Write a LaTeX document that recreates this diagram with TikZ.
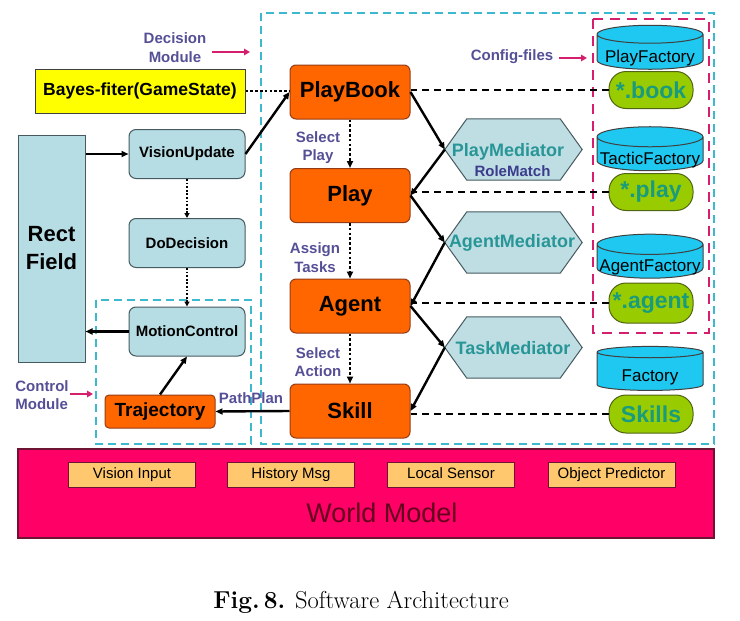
\documentclass[tikz,border=0pt]{standalone}
\usepackage{fontspec}
\newfontfamily\arial{Liberation Sans}
\usetikzlibrary{arrows.meta,shapes.geometric,backgrounds}
\definecolor{orangebox}{RGB}{255,102,0}
\definecolor{orangeedge}{RGB}{150,60,20}
\definecolor{lightblue}{RGB}{183,221,228}
\definecolor{blueedge}{RGB}{70,90,95}
\definecolor{cyandash}{RGB}{60,185,205}
\definecolor{magdash}{RGB}{214,30,110}
\definecolor{wmfill}{RGB}{255,0,102}
\definecolor{wmedge}{RGB}{110,20,50}
\definecolor{wmbox}{RGB}{255,200,110}
\definecolor{cylfill}{RGB}{30,200,240}
\definecolor{pillfill}{RGB}{153,204,0}
\definecolor{pilledge}{RGB}{80,100,20}
\definecolor{pilltext}{RGB}{25,155,125}
\definecolor{hexfill}{RGB}{190,222,228}
\definecolor{hextext}{RGB}{40,150,150}
\definecolor{roletext}{RGB}{60,60,140}
\definecolor{labeltext}{RGB}{85,80,150}
\definecolor{wmtext}{RGB}{100,0,30}
\definecolor{yellowbox}{RGB}{255,255,0}
\begin{document}
\begin{tikzpicture}[x=1pt,y=-1pt,
  tip/.style={-{Triangle[length=7pt,width=6pt]}},
  orangenode/.style={draw=orangeedge, line width=1pt, fill=orangebox, rounded corners=6pt,
    minimum width=120pt, minimum height=54pt, inner sep=0pt,
    font={\arial\bfseries\fontsize{22}{24}\selectfont}},
  bluenode/.style={draw=blueedge, line width=1pt, fill=lightblue, rounded corners=7pt,
    minimum width=116pt, minimum height=49pt, inner sep=0pt,
    font={\arial\bfseries\fontsize{15}{17}\selectfont}},
  hexnode/.style={minimum width=137pt, minimum height=61pt, inner sep=0pt},
  hexlabel/.style={text=hextext, inner sep=0pt, font={\arial\bfseries\fontsize{18}{20}\selectfont}},
  cylnode/.style={shape=cylinder, shape border rotate=90, aspect=0.2, draw=black!75, line width=1pt,
    fill=cylfill, minimum width=106pt, minimum height=44pt, inner sep=0pt,
    font={\arial\fontsize{17}{19}\selectfont}},
  pillnode/.style={draw=pilledge, line width=1pt, fill=pillfill, rounded corners=17pt,
    minimum width=84pt, minimum height=37pt, inner sep=0pt, text=pilltext,
    font={\arial\bfseries\fontsize{23}{25}\selectfont}},
  wmsub/.style={draw=wmedge, line width=1pt, fill=wmbox, minimum width=127pt, minimum height=25pt,
    inner sep=0pt, text height=11pt, text depth=3pt, font={\arial\fontsize{15}{17}\selectfont}},
  lbl/.style={text=labeltext, inner sep=0pt, align=center, font={\arial\bfseries\fontsize{15}{18.5}\selectfont}},
  solidarrow/.style={line width=2.4pt, tip},
  dotarrow/.style={line width=2.6pt, dash pattern=on 2.6pt off 2.2pt, tip},
  thindot/.style={line width=1.8pt, dash pattern=on 1.8pt off 1.8pt, -{Triangle[length=5pt,width=5pt]}},
  dashline/.style={line width=1.8pt, dash pattern=on 7pt off 5pt},
  cyanbox/.style={draw=cyandash, line width=2pt, dash pattern=on 8pt off 5pt},
  magbox/.style={draw=magdash, line width=2.6pt, dash pattern=on 10pt off 7pt},
  magarrow/.style={draw=magdash, line width=2.6pt, -{Triangle[length=6pt,width=6.5pt]}}
]
\useasboundingbox (0,0) rectangle (740,621);

% module frames
\draw[cyanbox] (261,13) rectangle (714,444);
\draw[cyanbox] (96,300) rectangle (251,444);
\draw[magbox] (593,19) rectangle (709,333);

% world model
\node[draw=wmedge, line width=1.2pt, fill=wmfill, minimum width=696pt, minimum height=89pt, inner sep=0pt] (wm) at (366,493.5) {};
\node[wmsub] (vin) at (132,474.5) {Vision Input};
\node[wmsub] (hmsg) at (291,474.5) {History Msg};
\node[wmsub] (lsen) at (451,474.5) {Local Sensor};
\node[wmsub] (opred) at (611.5,474.5) {Object Predictor};
\node[anchor=base, text=wmtext, inner sep=0pt, font={\arial\fontsize{27}{29}\selectfont}] (wmlabel) at (382,522) {World Model};

% caption
\node[anchor=base, inner sep=0pt, font={\fontsize{24.5}{27}\selectfont}] (caption) at (361,608) {\textbf{Fig.\,8.} Software Architecture};

% left part
\node[draw=blueedge, line width=1pt, fill=lightblue, minimum width=67pt, minimum height=227pt, inner sep=0pt,
  align=center, font={\arial\bfseries\fontsize{22}{28}\selectfont}] (rect) at (51.5,248.5) {Rect\\Field};
\node[draw=black!75, line width=1pt, fill=yellowbox, minimum width=210pt, minimum height=44pt, inner sep=0pt,
  font={\arial\bfseries\fontsize{17.5}{19}\selectfont}] (bayes) at (140,91) {Bayes-fiter(GameState)};
\node[bluenode] (vision) at (187,154) {VisionUpdate};
\node[bluenode] (dodec) at (187,243) {DoDecision};
\node[bluenode] (motion) at (187,331.5) {MotionControl};
\node[orangenode, minimum width=110pt, minimum height=33pt, rounded corners=4pt,
  font={\arial\bfseries\fontsize{19}{21}\selectfont}] (traj) at (160,411.5) {Trajectory};

% orange column
\node[orangenode] (playbook) at (350,92) {PlayBook};
\node[orangenode] (play) at (350,195.5) {Play};
\node[orangenode] (agent) at (350,306) {Agent};
\node[orangenode] (skill) at (350,411) {Skill};

% mediators
\node[hexnode] (pm) at (513.5,149.5) {};
\node[hexnode] (am) at (513.5,242.5) {};
\node[hexnode] (tm) at (513.5,347.5) {};
\begin{pgfonlayer}{background}
\foreach \h in {pm,am,tm} {
  \filldraw[fill=hexfill, draw=blueedge, line width=1pt]
    (\h.west) -- ([xshift=22pt]\h.north west) -- ([xshift=-22pt]\h.north east) -- (\h.east)
    -- ([xshift=-22pt]\h.south east) -- ([xshift=22pt]\h.south west) -- cycle;
}
\end{pgfonlayer}
\node[hexlabel] (pmtext) at (508,152) {PlayMediator};
\node[text=roletext, inner sep=0pt, font={\arial\bfseries\fontsize{15}{17}\selectfont}] (rmtext) at (512.5,171) {RoleMatch};
\node[hexlabel] (amtext) at (512,243) {AgentMediator};
\node[hexlabel] (tmtext) at (513,348) {TaskMediator};

% config files
\node[pillnode] (book) at (651,90) {*.book};
\node[pillnode] (playf) at (651,192) {*.play};
\node[pillnode, minimum height=40pt] (agentf) at (651,303) {*.agent};
\node[pillnode, minimum height=38pt] (skills) at (651,414) {Skills};
\node[cylnode] (playfac) at (650,52) {\raisebox{-10pt}[0pt][0pt]{PlayFactory}};
\node[cylnode] (tacfac) at (650,154) {\raisebox{-10pt}[0pt][0pt]{TacticFactory}};
\node[cylnode] (agentfac) at (650,261.5) {\raisebox{-10pt}[0pt][0pt]{AgentFactory}};
\node[cylnode] (fac) at (650,371.5) {\raisebox{-10pt}[0pt][0pt]{Factory}};

% labels
\node[lbl] (declbl) at (175,47.5) {Decision\\Module};
\node[lbl, align=left] (ctrllbl) at (42,395) {Control\\Module};
\node[lbl] (cfglbl) at (512,57) {Config-files};
\node[lbl] (sellbl) at (318,147.5) {Select\\Play};
\node[lbl] (asslbl) at (315,257.5) {Assign\\Tasks};
\node[lbl] (actlbl) at (318,362) {Select\\Action};
\node[lbl] (pathlbl) at (251,398) {PathPlan};

\coordinate (decA) at (212,52);
\coordinate (decB) at (250,52);
\draw[magarrow] (decA) -- (decB);
\coordinate (ctlA) at (70,394);
\coordinate (ctlB) at (93,394);
\draw[magarrow] (ctlA) -- (ctlB);
\coordinate (cfgA) at (559,58);
\coordinate (cfgB) at (587,58);
\draw[magarrow] (cfgA) -- (cfgB);

% connectors
\draw[line width=2.6pt, dash pattern=on 2.6pt off 2.2pt] (bayes.east) -- (bayes.east -| playbook.west);
\draw[solidarrow] (vision.east) -- (playbook.west);
\draw[solidarrow] (vision.west -| rect.east) -- (vision.west);
\draw[solidarrow] (motion.west) -- (motion.west -| rect.east);
\draw[thindot] (vision.south) -- (dodec.north);
\draw[thindot] (dodec.south) -- (motion.north);
\draw[solidarrow] (traj.north) -- (motion.south);
\draw[solidarrow] (skill.west) -- (traj.east);
\draw[dotarrow] (playbook.south) -- (play.north);
\draw[dotarrow] (play.south) -- (agent.north);
\draw[dotarrow] (agent.south) -- (skill.north);

\draw[solidarrow] (playbook.east) -- (pm.west);
\draw[solidarrow] (pm.west) -- (play.east);
\draw[solidarrow] (play.east) -- (am.west);
\draw[solidarrow] (am.west) -- (agent.east);
\draw[solidarrow] (agent.east) -- (tm.west);
\draw[solidarrow] (tm.west) -- (skill.east);

\draw[dashline] (book.west) -- (book.west -| playbook.east);
\draw[dashline] (playf.west) -- (playf.west -| play.east);
\draw[dashline] (agentf.west) -- (agentf.west -| agent.east);
\draw[dashline] (skills.west) -- (skills.west -| skill.east);
\end{tikzpicture}
\end{document}
